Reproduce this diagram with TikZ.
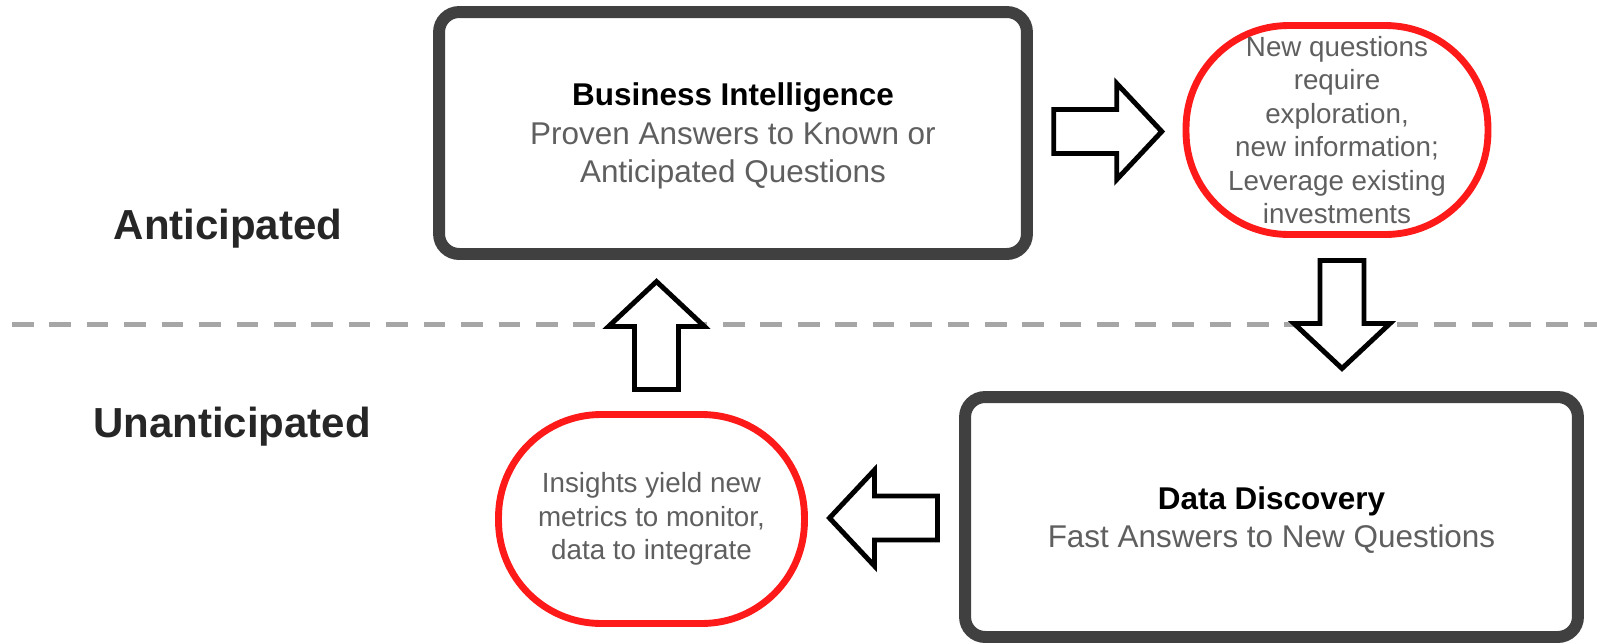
\documentclass[tikz,border=0pt]{standalone}
\usepackage{fontspec}
\setmainfont{Liberation Sans}
\usetikzlibrary{calc,positioning}

\definecolor{boxgray}{HTML}{404040}
\definecolor{textgray}{HTML}{5F5F5F}
\definecolor{labelgray}{HTML}{262626}
\definecolor{loopred}{HTML}{FF1A1A}
\definecolor{dashgray}{HTML}{A6A6A6}

\tikzset{
    fatarrow/.pic={
        \draw[arrowline] (-54,-22) -- (9,-22) -- (9,-48) -- (54,0) -- (9,48) -- (9,22) -- (-54,22) -- cycle;
    }
}

\begin{document}
\begin{tikzpicture}[x=0.02cm,y=-0.02cm,
    boxstyle/.style={draw=boxgray,line width=6.8pt,rounded corners=0.4cm,fill=white,text=textgray,align=center,inner sep=0pt,text depth=0pt,font=\fontsize{17.9}{21.9}\selectfont},
    bubble/.style={draw=loopred,line width=3.9pt,rounded corners=2.05cm,fill=white,text=textgray,align=center,inner sep=0pt,minimum height=4.18cm,font=\fontsize{15.8}{19}\selectfont},
    sidelabel/.style={anchor=base,text=labelgray,font=\fontsize{23.9}{28}\selectfont\bfseries},
    dashline/.style={draw=dashgray,line width=2.85pt,dash pattern=on 12.3pt off 9pt},
    arrowline/.style={draw=black,line width=2.8pt,fill=white,line join=miter}]

    \useasboundingbox (0,0) rectangle (1597,643);

    \coordinate (dashL) at (12,324);
    \coordinate (dashR) at (1597,324);
    \draw[dashline] (dashL) -- (dashR);

    \node[sidelabel] (antic) at (228,239) {Anticipated};
    \node[sidelabel] (unantic) at (232,437) {Unanticipated};

    \node[boxstyle,minimum width=11.76cm,minimum height=4.84cm] (bi) at (733,133)
        {\textcolor{black}{\bfseries Business Intelligence}\\Proven Answers to Known or\\Anticipated Questions};
    \node[bubble,minimum width=6.04cm] (newq) at (1337,130)
        {New questions\\require\\exploration,\\new information;\\Leverage existing\\investments};
    \node[boxstyle,minimum width=12.26cm,minimum height=4.8cm] (dd) at (1271.5,517)
        {\textcolor{black}{\bfseries Data Discovery}\\Fast Answers to New Questions};
    \node[bubble,minimum width=6.12cm] (insight) at (651.5,519)
        {Insights yield new\\metrics to monitor,\\data to integrate};

    \pic at ($(bi.east)!0.5!(newq.west)$) {fatarrow};
    \pic[rotate=-90] at ($(newq.south)!0.5!(newq.south|-dd.north)+(5,0)$) {fatarrow};
    \pic[rotate=180] at ($(dd.west)!0.5!(insight.east)$) {fatarrow};
    \pic[rotate=90] at ($(insight.north)!0.5!(insight.north|-bi.south)+(5,0)$) {fatarrow};

\end{tikzpicture}
\end{document}
